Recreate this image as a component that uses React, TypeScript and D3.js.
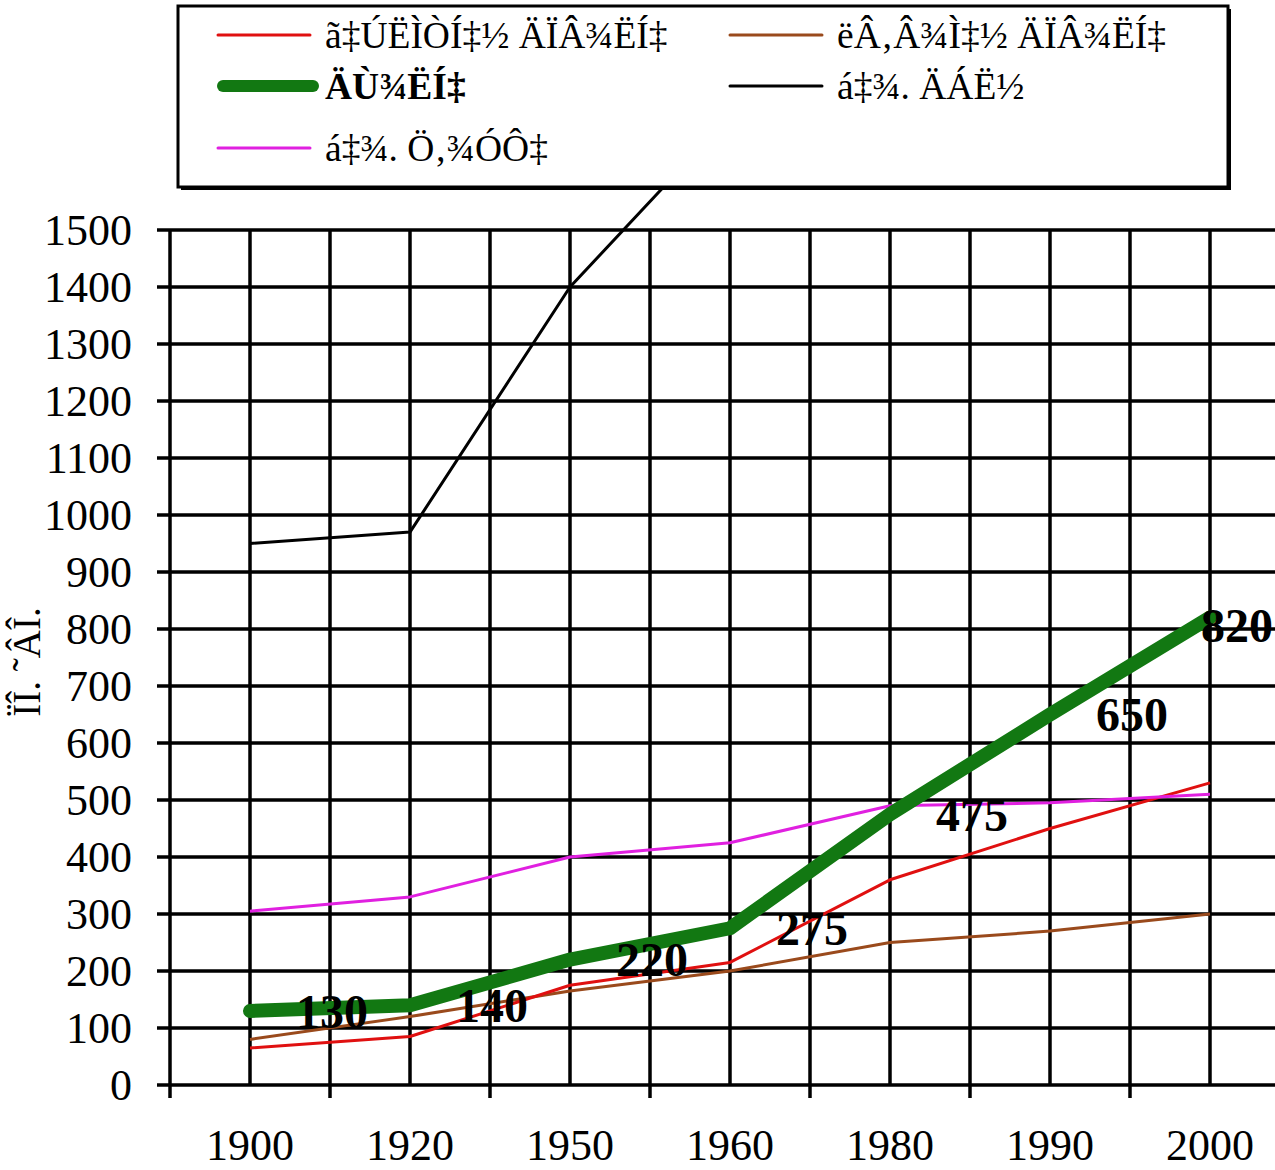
import React from "react";
import * as d3 from "d3";

const categories = ["1900", "1920", "1950", "1960", "1980", "1990", "2000"];
const latinAmerica = [65, 85, 175, 215, 360, 450, 530];
const northAmerica = [80, 120, 165, 200, 250, 270, 300];
const africa = [130, 140, 220, 275, 475, 650, 820];
const foreignAsia = [950, 970, 1400, 1700, 2100, 2400, 2700];
const foreignEurope = [305, 330, 400, 425, 490, 495, 510];
const yTicks = [0, 100, 200, 300, 400, 500, 600, 700, 800, 900, 1000, 1100, 1200, 1300, 1400, 1500];

const seriesNames = {
  latin: "ã‡ÚËÌÒÍ‡½ ÄÏÂ¾ËÍ‡",
  north: "ëÂ‚Â¾Ì‡½ ÄÏÂ¾ËÍ‡",
  africa: "ÄÙ¾ËÍ‡",
  asia: "á‡¾. ÄÁË½",
  europe: "á‡¾. Ö‚¾ÓÔ‡",
};
const yTitle = "ÏÎ. ˜ÂÎ.";

const W = 1275;
const H = 1170;
const FONT = "'Liberation Serif', 'Times New Roman', serif";

export default function App() {
  const left = 170;
  const right = 1290;
  const top = 230;
  const bottom = 1085;

  const x = d3.scalePoint<string>().domain(categories).range([left, right]).padding(0.5);
  const y = d3.scaleLinear().domain([0, 1500]).range([bottom, top]);
  const step = x.step();

  const line = d3
    .line<number>()
    .x((_, i) => x(categories[i]) as number)
    .y((d) => y(d));

  const boundaries = d3.range(categories.length + 1).map((i) => left + i * step);
  const centers = categories.map((c) => x(c) as number);

  const series = [
    { key: "north", data: northAmerica, color: "#9a4a1c", width: 3 },
    { key: "latin", data: latinAmerica, color: "#e01010", width: 3 },
    { key: "europe", data: foreignEurope, color: "#e020e0", width: 3 },
    { key: "asia", data: foreignAsia, color: "#000000", width: 3 },
    { key: "africa", data: africa, color: "#127812", width: 14 },
  ];

  const legendItems = [
    { key: "latin", color: "#e01010", width: 3, bold: false, col: 0, row: 0 },
    { key: "north", color: "#9a4a1c", width: 3, bold: false, col: 1, row: 0 },
    { key: "africa", color: "#127812", width: 12, bold: true, col: 0, row: 1 },
    { key: "asia", color: "#000000", width: 3, bold: false, col: 1, row: 1 },
    { key: "europe", color: "#e020e0", width: 3, bold: false, col: 0, row: 2 },
  ];
  const legendRowY = [35, 86, 148];
  const legendColX = [218, 730];

  return (
    <svg
      width={W}
      height={H}
      style={{ position: "absolute", left: 0, top: 0, background: "#fff" }}
      fontFamily={FONT}
    >
      <defs>
        <clipPath id="plotClip">
          <rect x={0} y={6} width={W} height={H - 6} />
        </clipPath>
      </defs>
      <rect x={0} y={0} width={W} height={H} fill="#fff" />

      {/* horizontal gridlines */}
      {yTicks.map((t) => (
        <line key={"h" + t} x1={157} x2={right} y1={y(t)} y2={y(t)} stroke="#000" strokeWidth={3.5} />
      ))}
      {/* vertical gridlines at band boundaries (with ticks) */}
      {boundaries.map((bx, i) => (
        <line key={"vb" + i} x1={bx} x2={bx} y1={top} y2={bottom + 13} stroke="#000" strokeWidth={3.5} />
      ))}
      {/* vertical gridlines at category centers */}
      {centers.map((cx, i) => (
        <line key={"vc" + i} x1={cx} x2={cx} y1={top} y2={bottom} stroke="#000" strokeWidth={3.5} />
      ))}

      {/* y tick labels */}
      {yTicks.map((t) => (
        <text key={"yl" + t} x={132} y={y(t)} dy="0.35em" textAnchor="end" fontSize={44} fill="#000">
          {t}
        </text>
      ))}
      {/* x tick labels */}
      {categories.map((c) => (
        <text key={"xl" + c} x={x(c) as number} y={1160} textAnchor="middle" fontSize={44} fill="#000">
          {c}
        </text>
      ))}
      {/* y axis title */}
      <text
        transform={`translate(40, 662) rotate(-90)`}
        textAnchor="middle"
        fontSize={39}
        fill="#000"
      >
        {yTitle}
      </text>

      {/* series lines */}
      <g clipPath="url(#plotClip)">
        {series.map((s) => (
          <path
            key={s.key}
            d={line(s.data) || ""}
            fill="none"
            stroke={s.color}
            strokeWidth={s.width}
            strokeLinejoin="round"
            strokeLinecap={s.key === "africa" ? "round" : "butt"}
          />
        ))}
      </g>

      {/* data labels for Africa */}
      {africa.map((v, i) => {
        const px = x(categories[i]) as number;
        const last = i === africa.length - 1;
        return (
          <text
            key={"dl" + i}
            x={last ? px + 27 : px + 82}
            y={y(v) + (last ? 8 : 0)}
            dy="0.35em"
            textAnchor="middle"
            fontSize={48}
            fontWeight="bold"
            fill="#000"
          >
            {v}
          </text>
        );
      })}

      {/* legend */}
      <rect x={181} y={9} width={1050} height={181} fill="#000" />
      <rect x={178} y={6} width={1050} height={181} fill="#fff" stroke="#000" strokeWidth={3} />
      {legendItems.map((it) => {
        const lx = legendColX[it.col];
        const ly = legendRowY[it.row];
        return (
          <g key={"lg" + it.key}>
            <line
              x1={lx + (it.bold ? 5 : 0)}
              x2={lx + (it.bold ? 95 : 92)}
              y1={ly}
              y2={ly}
              stroke={it.color}
              strokeWidth={it.width}
              strokeLinecap="round"
            />
            <text
              x={lx + 107}
              y={ly}
              dy="0.35em"
              fontSize={37.5}
              fontWeight={it.bold ? "bold" : "normal"}
              fill="#000"
            >
              {seriesNames[it.key as keyof typeof seriesNames]}
            </text>
          </g>
        );
      })}
    </svg>
  );
}
